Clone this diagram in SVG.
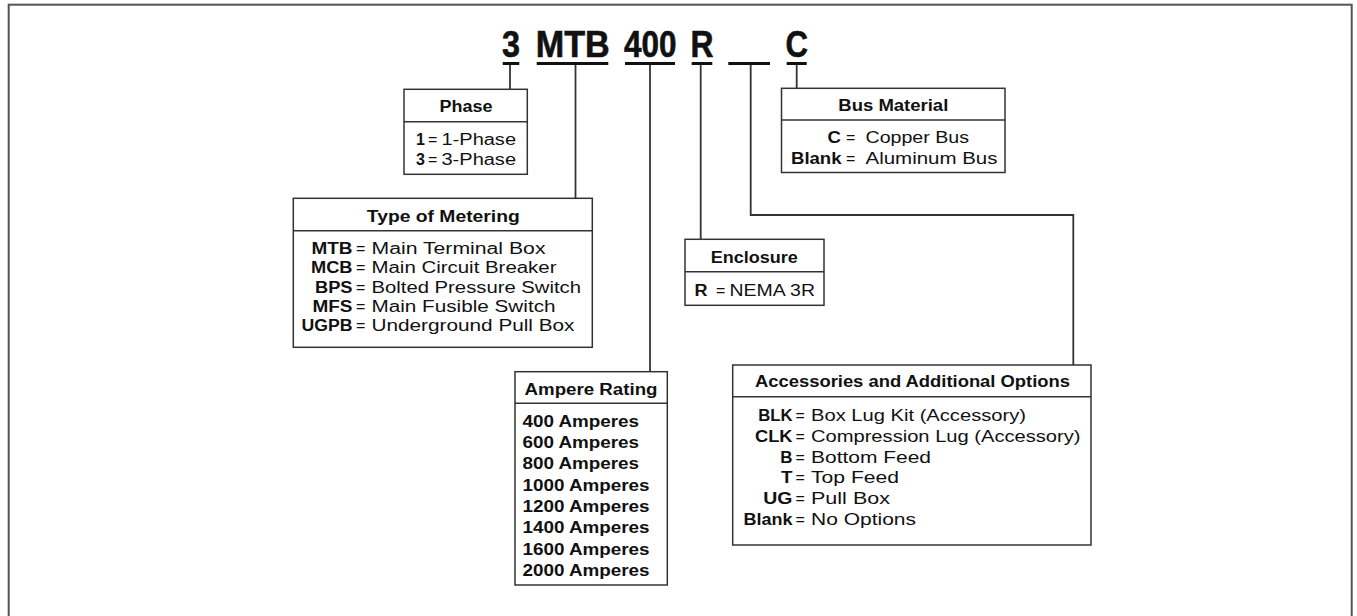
<svg xmlns="http://www.w3.org/2000/svg" width="1357" height="616" viewBox="0 0 1357 616">
<style>
.bg{fill:#fff}
.frame{fill:none;stroke:#555;stroke-width:2}
.box{fill:#fff;stroke:#333;stroke-width:1.5}
.div{stroke:#333;stroke-width:1.5}
.t{font-family:'Liberation Sans',Arial,sans-serif;font-size:16px;fill:#111}
.b{font-weight:bold}
.code{font-family:'Liberation Sans',Arial,sans-serif;font-size:36px;font-weight:bold;fill:#111;stroke:#111;stroke-width:0.6}
.conn{stroke:#333;stroke-width:1.8;fill:none}
.ul{stroke:#111;stroke-width:3}
</style>
<rect class="bg" x="0" y="0" width="1357" height="616"/>
<rect class="frame" x="8.7" y="4.7" width="1343" height="640"/>

<g id="catalog-code">
  <text class="code" x="502" y="57.3" textLength="18" lengthAdjust="spacingAndGlyphs">3</text>
  <text class="code" x="535.7" y="57.3" textLength="74" lengthAdjust="spacingAndGlyphs">MTB</text>
  <text class="code" x="624" y="57.3" textLength="52.5" lengthAdjust="spacingAndGlyphs">400</text>
  <text class="code" x="690.5" y="57.3" textLength="23" lengthAdjust="spacingAndGlyphs">R</text>
  <text class="code" x="785.5" y="57.3" textLength="22.5" lengthAdjust="spacingAndGlyphs">C</text>
  <line class="ul" x1="502.7" y1="63.5" x2="519.3" y2="63.5"/>
  <line class="ul" x1="536.7" y1="63.5" x2="608.3" y2="63.5"/>
  <line class="ul" x1="625" y1="63.5" x2="675" y2="63.5"/>
  <line class="ul" x1="691.7" y1="63.5" x2="712.3" y2="63.5"/>
  <line class="ul" x1="728.3" y1="63.5" x2="770" y2="63.5"/>
  <line class="ul" x1="786.7" y1="63.5" x2="806.7" y2="63.5"/>
</g>

<g id="connectors">
  <path class="conn" d="M510,65 V89.3"/>
  <path class="conn" d="M575.5,65 V198.3"/>
  <path class="conn" d="M650,65 V371.7"/>
  <path class="conn" d="M700.7,65 V239.3"/>
  <path class="conn" d="M750.7,65 V215 H1073.3 V365"/>
  <path class="conn" d="M796.7,65 V88.3"/>
</g>

<g id="phase">
  <rect class="box" x="404" y="89.3" width="123.3" height="85"/>
  <line class="div" x1="404" y1="121.7" x2="527.3" y2="121.7"/>
  <text class="t b" x="439.5" y="112.3" textLength="53" lengthAdjust="spacingAndGlyphs">Phase</text>
  <text class="t b" x="416" y="144.5">1</text>
  <text class="t" x="428" y="144.5">=</text>
  <text class="t" x="441.5" y="144.5" textLength="74.5" lengthAdjust="spacingAndGlyphs">1-Phase</text>
  <text class="t b" x="416" y="164.5">3</text>
  <text class="t" x="428" y="164.5">=</text>
  <text class="t" x="441.5" y="164.5" textLength="74.5" lengthAdjust="spacingAndGlyphs">3-Phase</text>
</g>

<g id="type-of-metering">
  <rect class="box" x="293.3" y="198.3" width="299" height="149"/>
  <line class="div" x1="293.3" y1="230.7" x2="592.3" y2="230.7"/>
  <text class="t b" x="366.8" y="221.7" textLength="153" lengthAdjust="spacingAndGlyphs">Type of Metering</text>
  <text class="t b" x="311.5" y="254.3" textLength="41" lengthAdjust="spacingAndGlyphs">MTB</text>
  <text class="t" x="356" y="254.3">=</text>
  <text class="t" x="371.5" y="254.3" textLength="174" lengthAdjust="spacingAndGlyphs">Main Terminal Box</text>
  <text class="t b" x="311" y="273.4" textLength="41.5" lengthAdjust="spacingAndGlyphs">MCB</text>
  <text class="t" x="356" y="273.4">=</text>
  <text class="t" x="371.5" y="273.4" textLength="185" lengthAdjust="spacingAndGlyphs">Main Circuit Breaker</text>
  <text class="t b" x="315" y="292.5" textLength="37.5" lengthAdjust="spacingAndGlyphs">BPS</text>
  <text class="t" x="356" y="292.5">=</text>
  <text class="t" x="371.5" y="292.5" textLength="209.5" lengthAdjust="spacingAndGlyphs">Bolted Pressure Switch</text>
  <text class="t b" x="312.5" y="311.6" textLength="40" lengthAdjust="spacingAndGlyphs">MFS</text>
  <text class="t" x="356" y="311.6">=</text>
  <text class="t" x="371.5" y="311.6" textLength="184" lengthAdjust="spacingAndGlyphs">Main Fusible Switch</text>
  <text class="t b" x="301.5" y="330.7" textLength="51" lengthAdjust="spacingAndGlyphs">UGPB</text>
  <text class="t" x="356" y="330.7">=</text>
  <text class="t" x="371.5" y="330.7" textLength="203" lengthAdjust="spacingAndGlyphs">Underground Pull Box</text>
</g>

<g id="ampere-rating">
  <rect class="box" x="515" y="371.7" width="152.3" height="213.3"/>
  <line class="div" x1="515" y1="403.3" x2="667.3" y2="403.3"/>
  <text class="t b" x="524.5" y="395" textLength="133" lengthAdjust="spacingAndGlyphs">Ampere Rating</text>
  <text class="t b" x="522.5" y="426.7" textLength="116.5" lengthAdjust="spacingAndGlyphs">400 Amperes</text>
  <text class="t b" x="522.5" y="448" textLength="116.5" lengthAdjust="spacingAndGlyphs">600 Amperes</text>
  <text class="t b" x="522.5" y="469.3" textLength="116.5" lengthAdjust="spacingAndGlyphs">800 Amperes</text>
  <text class="t b" x="522.5" y="490.6" textLength="127" lengthAdjust="spacingAndGlyphs">1000 Amperes</text>
  <text class="t b" x="522.5" y="511.9" textLength="127" lengthAdjust="spacingAndGlyphs">1200 Amperes</text>
  <text class="t b" x="522.5" y="533.2" textLength="127" lengthAdjust="spacingAndGlyphs">1400 Amperes</text>
  <text class="t b" x="522.5" y="554.5" textLength="127" lengthAdjust="spacingAndGlyphs">1600 Amperes</text>
  <text class="t b" x="522.5" y="575.8" textLength="127" lengthAdjust="spacingAndGlyphs">2000 Amperes</text>
</g>

<g id="enclosure">
  <rect class="box" x="685" y="239.3" width="139" height="66"/>
  <line class="div" x1="685" y1="271.7" x2="824" y2="271.7"/>
  <text class="t b" x="710.8" y="262.7" textLength="87" lengthAdjust="spacingAndGlyphs">Enclosure</text>
  <text class="t b" x="694.5" y="295.5" textLength="13" lengthAdjust="spacingAndGlyphs">R</text>
  <text class="t" x="716" y="295.5">=</text>
  <text class="t" x="729.5" y="295.5" textLength="85.5" lengthAdjust="spacingAndGlyphs">NEMA 3R</text>
</g>

<g id="bus-material">
  <rect class="box" x="781.5" y="88.3" width="223.5" height="84.2"/>
  <line class="div" x1="781.5" y1="120" x2="1005" y2="120"/>
  <text class="t b" x="838.3" y="111.3" textLength="110" lengthAdjust="spacingAndGlyphs">Bus Material</text>
  <text class="t b" x="827.5" y="143.3" textLength="13.4" lengthAdjust="spacingAndGlyphs">C</text>
  <text class="t" x="846" y="143.3">=</text>
  <text class="t" x="865.5" y="143.3" textLength="103.5" lengthAdjust="spacingAndGlyphs">Copper Bus</text>
  <text class="t b" x="791" y="164.3" textLength="50.5" lengthAdjust="spacingAndGlyphs">Blank</text>
  <text class="t" x="846" y="164.3">=</text>
  <text class="t" x="865.5" y="164.3" textLength="132" lengthAdjust="spacingAndGlyphs">Aluminum Bus</text>
</g>

<g id="accessories">
  <rect class="box" x="732.7" y="365" width="358.3" height="180"/>
  <line class="div" x1="732.7" y1="396.7" x2="1091" y2="396.7"/>
  <text class="t b" x="755" y="387.3" textLength="315" lengthAdjust="spacingAndGlyphs">Accessories and Additional Options</text>
  <text class="t b" x="758.2" y="421" textLength="34.3" lengthAdjust="spacingAndGlyphs">BLK</text>
  <text class="t" x="795.5" y="421">=</text>
  <text class="t" x="811" y="421" textLength="215" lengthAdjust="spacingAndGlyphs">Box Lug Kit (Accessory)</text>
  <text class="t b" x="755" y="441.8" textLength="37.5" lengthAdjust="spacingAndGlyphs">CLK</text>
  <text class="t" x="795.5" y="441.8">=</text>
  <text class="t" x="811" y="441.8" textLength="269.5" lengthAdjust="spacingAndGlyphs">Compression Lug (Accessory)</text>
  <text class="t b" x="780.3" y="462.6" textLength="12.2" lengthAdjust="spacingAndGlyphs">B</text>
  <text class="t" x="795.5" y="462.6">=</text>
  <text class="t" x="811" y="462.6" textLength="120" lengthAdjust="spacingAndGlyphs">Bottom Feed</text>
  <text class="t b" x="781" y="483.4" textLength="11.5" lengthAdjust="spacingAndGlyphs">T</text>
  <text class="t" x="795.5" y="483.4">=</text>
  <text class="t" x="811" y="483.4" textLength="88" lengthAdjust="spacingAndGlyphs">Top Feed</text>
  <text class="t b" x="763.3" y="504.2" textLength="29.2" lengthAdjust="spacingAndGlyphs">UG</text>
  <text class="t" x="795.5" y="504.2">=</text>
  <text class="t" x="811" y="504.2" textLength="79" lengthAdjust="spacingAndGlyphs">Pull Box</text>
  <text class="t b" x="743.5" y="525" textLength="49" lengthAdjust="spacingAndGlyphs">Blank</text>
  <text class="t" x="795.5" y="525">=</text>
  <text class="t" x="811" y="525" textLength="105" lengthAdjust="spacingAndGlyphs">No Options</text>
</g>
</svg>
